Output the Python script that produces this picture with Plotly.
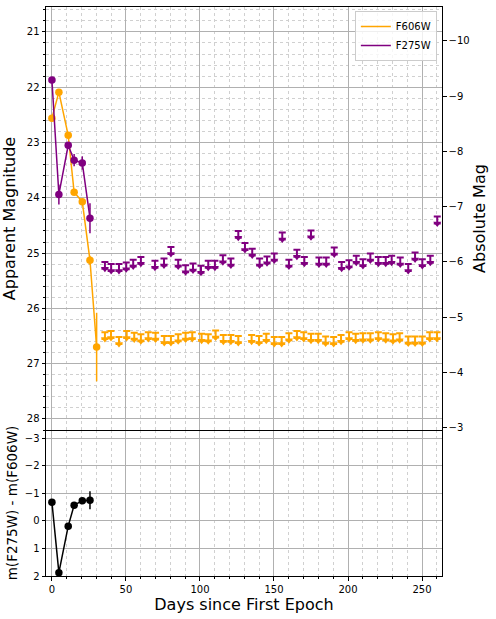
import plotly.graph_objects as go

# ==== data ====
det_days = [0, 4.7, 11.0, 15.0, 20.5, 25.7]
f606w_days = [0, 4.7, 11.0, 15.0, 20.5, 25.7, 30.2]
f606w_mag = [22.56, 22.09, 22.87, 23.90, 24.07, 25.13, 26.70]
f606w_err = [0.02, 0.02, 0.04, 0.04, 0.04, 0.08, 0.62]
f275w_mag = [21.87, 23.94, 23.05, 23.32, 23.37, 24.37]
f275w_err = [0.03, 0.18, 0.05, 0.11, 0.12, 0.27]

color_mag = [-0.68, 1.88, 0.19, -0.57, -0.73, -0.75]
color_err = [0.03, 0.10, 0.06, 0.08, 0.08, 0.33]

# upper limits (non detections)
f275w_lim_days = [35.8, 40.0, 45.3, 50.2, 54.9, 60.1, 69.6, 75.7, 80.4, 85.3, 90.3, 95.3,
                  100.7, 105.6, 110.1, 115.5, 120.9, 125.9, 130.4, 135.3, 140.3, 145.3,
                  150.2, 155.6, 160.1, 165.5, 170.5, 175.0, 180.4, 185.3, 190.7, 195.7,
                  200.7, 205.6, 210.1, 215.1, 220.5, 225.5, 229.5, 235.3, 240.7, 245.3,
                  250.2, 255.6, 260.3]
f275w_lim_mag = [25.16, 25.20, 25.20, 25.17, 25.12, 25.07, 25.14, 25.10, 24.89, 25.12, 25.22, 25.19,
                 25.23, 25.14, 25.14, 25.04, 25.10, 24.60, 24.82, 24.92, 25.10, 25.06,
                 25.01, 24.63, 25.12, 24.94, 25.07, 24.59, 25.08, 25.08, 24.90, 25.16,
                 25.13, 25.05, 25.11, 25.01, 25.07, 25.07, 25.05, 25.08, 25.20, 24.99,
                 25.11, 25.05, 24.34]
f606w_lim_days = [35.8, 39.9, 45.3, 50.5, 55.6, 60.1, 65.1, 70.0, 75.9, 80.4, 85.3, 90.3,
                  94.8, 101.1, 105.6, 110.6, 115.8, 120.9, 125.9, 134.9, 139.9, 144.8,
                  150.2, 155.2, 160.1, 165.5, 170.1, 175.0, 179.9, 184.9, 190.3, 195.3,
                  200.7, 205.2, 210.1, 215.1, 220.5, 225.5, 230.4, 234.9, 240.7, 245.3,
                  250.2, 255.2, 260.1]
f606w_lim_mag = [26.43, 26.41, 26.52, 26.41, 26.44, 26.47, 26.43, 26.44, 26.50, 26.50, 26.47, 26.44,
                 26.43, 26.46, 26.47, 26.40, 26.48, 26.48, 26.50, 26.48, 26.50, 26.46,
                 26.52, 26.52, 26.45, 26.41, 26.43, 26.46, 26.46, 26.51, 26.52, 26.48,
                 26.43, 26.46, 26.45, 26.45, 26.43, 26.45, 26.47, 26.45, 26.51, 26.51,
                 26.51, 26.43, 26.43]

DIST_MOD = 31.16
app_range = [28.2, 20.55]
col_range = [2.0, -3.3]
x_range = [-4, 263.5]

ORANGE = "orange"
PURPLE = "purple"
ARROW = 0.125  # length of the limit arrow (mag)

FONT = "DejaVu Sans"
GRID = "#b0b0b0"
MINOR = "#d0d0d0"

fig = go.Figure()


def add_limits(days, mags, col):
    # arrow head below the limit value, bar (cap) at the limit itself
    fig.add_trace(go.Scatter(
        x=days, y=[m + ARROW for m in mags], mode="markers",
        marker=dict(symbol="triangle-down", size=7, color=col),
        error_y=dict(type="data", symmetric=False, array=[0] * len(mags),
                     arrayminus=[ARROW] * len(mags), color=col, thickness=2, width=3.5),
        xaxis="x2", yaxis="y2", showlegend=False, hoverinfo="x+y"))


# 1. 上面的光变曲线
fig.add_trace(go.Scatter(
    x=f606w_days, y=f606w_mag, mode="lines+markers",
    line=dict(color=ORANGE, width=1.5), marker=dict(size=7.5, color=ORANGE),
    error_y=dict(type="data", array=f606w_err, color=ORANGE, thickness=1.5, width=0),
    xaxis="x2", yaxis="y2", showlegend=False))
fig.add_trace(go.Scatter(
    x=det_days, y=f275w_mag, mode="lines+markers",
    line=dict(color=PURPLE, width=1.5), marker=dict(size=7.5, color=PURPLE),
    error_y=dict(type="data", array=f275w_err, color=PURPLE, thickness=1.5, width=0),
    xaxis="x2", yaxis="y2", showlegend=False))
add_limits(f606w_lim_days, f606w_lim_mag, ORANGE)
add_limits(f275w_lim_days, f275w_lim_mag, PURPLE)

# legend entries (lines only)
fig.add_trace(go.Scatter(x=[None], y=[None], mode="lines", name="F606W",
                         line=dict(color=ORANGE, width=1.5), xaxis="x2", yaxis="y2"))
fig.add_trace(go.Scatter(x=[None], y=[None], mode="lines", name="F275W",
                         line=dict(color=PURPLE, width=1.5), xaxis="x2", yaxis="y2"))

# absolute magnitude axis holder
fig.add_trace(go.Scatter(x=[None], y=[None], xaxis="x2", yaxis="y3",
                         showlegend=False, hoverinfo="skip"))

# 2. 下面的颜色
fig.add_trace(go.Scatter(
    x=det_days, y=color_mag, mode="lines+markers",
    line=dict(color="black", width=1.5), marker=dict(size=7.5, color="black"),
    error_y=dict(type="data", array=color_err, color="black", thickness=1.5, width=0),
    xaxis="x", yaxis="y", showlegend=False))

split = 146 / 569

axis_common = dict(showline=True, linecolor="black", linewidth=1, mirror=True,
                   tickcolor="black",
                   tickfont=dict(family=FONT, size=10, color="black"),
                   showgrid=True, gridcolor=GRID, gridwidth=1, zeroline=False,
                   automargin=False)

fig.update_layout(
    width=496, height=619,
    margin=dict(l=46, r=54, t=7, b=43),
    plot_bgcolor="white", paper_bgcolor="white",
    font=dict(family=FONT, color="black"),
    xaxis=dict(domain=[0, 1], anchor="y", range=x_range, dtick=50, tick0=0,
               ticks="outside", ticklen=3.5,
               minor=dict(dtick=10, showgrid=True, gridcolor=MINOR, griddash="dot",
                          ticks="outside", ticklen=2),
               title=dict(text="Days since First Epoch", font=dict(size=16), standoff=5),
               **{**axis_common, "mirror": False}),
    yaxis=dict(domain=[0, split], anchor="x", range=col_range, dtick=1, tick0=0,
               ticks="outside", ticklen=3.5,
               title=dict(text="m(F275W) - m(F606W)", font=dict(size=13.5), standoff=4),
               **axis_common),
    xaxis2=dict(domain=[0, 1], anchor="y2", matches="x", range=x_range, dtick=50, tick0=0,
                showticklabels=False, ticks="",
                minor=dict(dtick=10, showgrid=True, gridcolor=MINOR, griddash="dot"),
                **axis_common),
    yaxis2=dict(domain=[split, 1], anchor="x2", range=app_range, dtick=1, tick0=0,
                ticks="outside", ticklen=3.5,
                minor=dict(dtick=0.2, showgrid=True, gridcolor=MINOR, griddash="dot",
                           ticks="outside", ticklen=2),
                title=dict(text="Apparent Magnitude", font=dict(size=16), standoff=7),
                **axis_common),
    yaxis3=dict(overlaying="y2", side="right", anchor="x2",
                range=[app_range[0] - DIST_MOD, app_range[1] - DIST_MOD], dtick=1, tick0=0,
                showline=True, linecolor="black", ticks="outside", ticklen=3.5,
                tickcolor="black", tickfont=dict(family=FONT, size=10, color="black"),
                showgrid=False, zeroline=False, automargin=False,
                title=dict(text="Absolute Mag", font=dict(size=16), standoff=5)),
    legend=dict(x=0.987, y=0.993, xanchor="right", yanchor="top",
                bgcolor="rgba(255,255,255,0.8)", bordercolor="#cccccc", borderwidth=1,
                font=dict(family=FONT, size=10), tracegroupgap=0),
)

fig.write_html("out.html", config={"displayModeBar": False},
               post_script="document.body.style.margin='0';")
